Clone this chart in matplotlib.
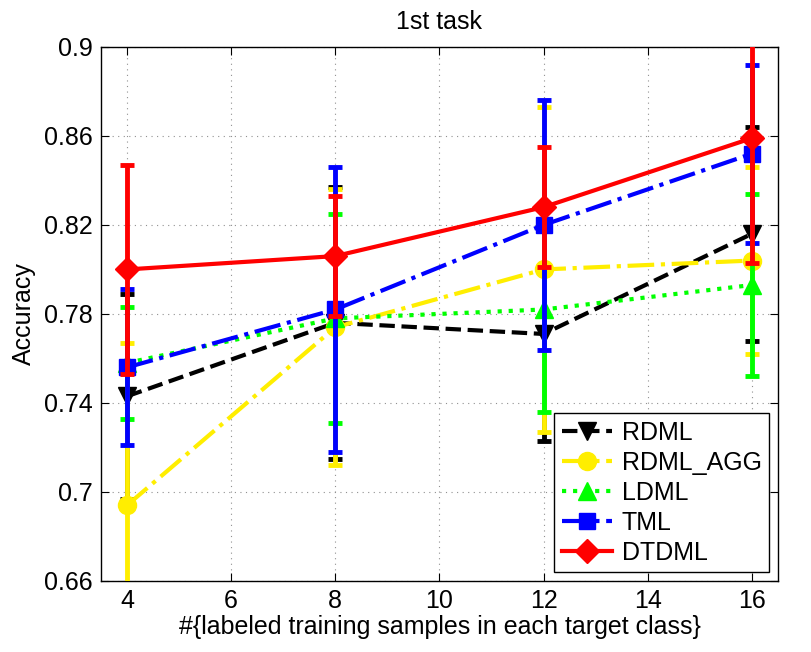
# Accuracy vs. number of labeled samples, 1st task (MATLAB-style errorbar plot).

import matplotlib
matplotlib.use('Agg')
import matplotlib.pyplot as plt
from matplotlib.lines import Line2D

plt.rcParams['font.family'] = ['Liberation Sans', 'DejaVu Sans']

# Number of labeled training samples per target class.
n_samples = [4, 8, 12, 16]

# Mean accuracy and error bar half-length.
rdml = [0.743, 0.776, 0.771, 0.816]
rdml_err = [0.046, 0.061, 0.048, 0.048]

rdml_agg = [0.694, 0.774, 0.800, 0.804]
rdml_agg_err = [0.073, 0.062, 0.073, 0.042]

ldml = [0.758, 0.778, 0.782, 0.793]
ldml_err = [0.025, 0.047, 0.046, 0.041]

tml = [0.756, 0.782, 0.820, 0.852]
tml_err = [0.035, 0.064, 0.056, 0.040]

dtdml = [0.800, 0.806, 0.828, 0.859]
dtdml_err = [0.047, 0.027, 0.027, 0.056]

yticks = [0.66, 0.7, 0.74, 0.78, 0.82, 0.86, 0.9]
ytick_labels = ['0.66', '0.7', '0.74', '0.78', '0.82', '0.86', '0.9']

series = [
    ('RDML', rdml, rdml_err, 'k', '--', 'v', 13),
    ('RDML_AGG', rdml_agg, rdml_agg_err, '#ffee00', '-.', 'o', 13),
    ('LDML', ldml, ldml_err, '#00ff00', ':', '^', 13),
    ('TML', tml, tml_err, 'b', '-.', 's', 11),
    ('DTDML', dtdml, dtdml_err, 'r', '-', 'D', 12),
]

fs = 18

fig = plt.figure(figsize=(8.12, 6.52), dpi=100)
ax = fig.add_axes([0.1244, 0.109, 0.8336, 0.819])

handles = []
for i, (name, y, err, c, ls, mk, ms) in enumerate(series):
    ax.errorbar(n_samples, y, yerr=err, color=c, ls=ls, lw=3, marker=mk,
                markersize=ms, mfc=c, mec=c, elinewidth=3.5, capsize=5,
                capthick=3.5, zorder=3 + i)
    handles.append(Line2D([], [], color=c, ls=ls, lw=3, marker=mk,
                          markersize=ms, mfc=c, mec=c, label=name))

ax.set_xlim(3.5, 16.5)
ax.set_ylim(0.66, 0.9)
ax.set_xticks(range(4, 17, 2))
ax.set_yticks(yticks)
ax.set_yticklabels(ytick_labels)
ax.tick_params(direction='in', top=True, right=True, labelsize=fs, length=6, pad=6)
ax.grid(True, color='#909090', ls=(0, (1, 4)), lw=0.8)
for s in ax.spines.values():
    s.set_linewidth(1)

ax.set_title('1st task', fontsize=fs, pad=13)
ax.set_xlabel('#{labeled training samples in each target class}', fontsize=fs, labelpad=1)
ax.set_ylabel('Accuracy', fontsize=fs, labelpad=6)

leg = ax.legend(handles=handles, loc='lower right', fontsize=fs, numpoints=1,
                handlelength=2.0, fancybox=False, framealpha=1, edgecolor='k',
                borderaxespad=0.35, labelspacing=0.24, handletextpad=0.4,
                borderpad=0.3)
leg.get_frame().set_linewidth(1)

fig.savefig('out.png', dpi=100)
